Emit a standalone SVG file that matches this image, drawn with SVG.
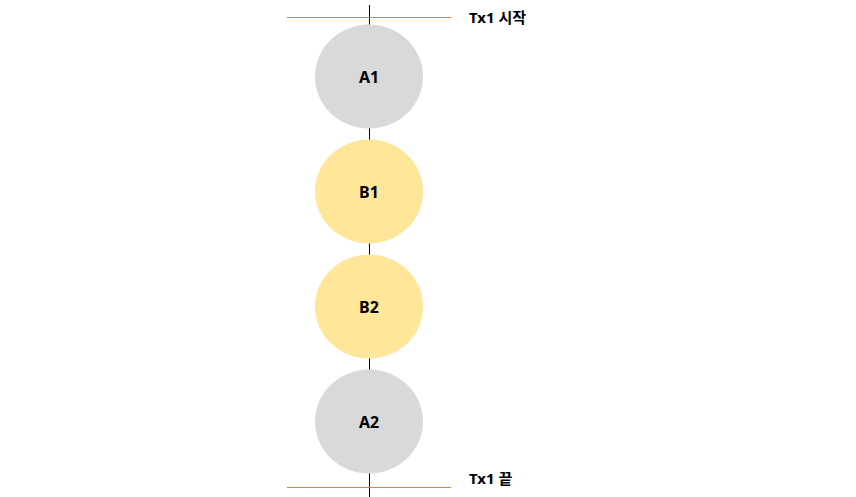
<svg xmlns="http://www.w3.org/2000/svg" width="856" height="497" viewBox="0 0 856 497">
<style>
.a{fill:#d9d9d9}
.b{fill:#ffe699}
.t{font-family:"Noto Sans","Liberation Sans","Noto Sans CJK KR",sans-serif;font-weight:bold;font-size:15px;fill:#000}
.n{font-size:16px;text-anchor:middle}
.l{stroke:#000;stroke-width:1}
.h{stroke:#e0803e;stroke-width:1}
</style>
<rect width="856" height="497" fill="#fff"/>
<g id="connectors">
<line class="l" x1="369.5" y1="5" x2="369.5" y2="497"/>
<line class="h" x1="287" y1="17.5" x2="451" y2="17.5"/>
<line class="h" x1="287" y1="487.5" x2="451" y2="487.5"/>
</g>
<g id="A1"><ellipse class="a" cx="369" cy="76.5" rx="54" ry="52"/><text class="t n" x="369" y="82.5">A1</text></g>
<g id="B1"><ellipse class="b" cx="369" cy="191.5" rx="54" ry="52"/><text class="t n" x="369" y="197.5">B1</text></g>
<g id="B2"><ellipse class="b" cx="369" cy="306.5" rx="54" ry="52"/><text class="t n" x="369" y="312.5">B2</text></g>
<g id="A2"><ellipse class="a" cx="369" cy="421.5" rx="54" ry="52"/><text class="t n" x="369" y="427.5">A2</text></g>
<g id="start"><text class="t" x="469" y="22.5">Tx1 시작</text></g>
<g id="end"><text class="t" x="469" y="484">Tx1 끝</text></g>
</svg>
